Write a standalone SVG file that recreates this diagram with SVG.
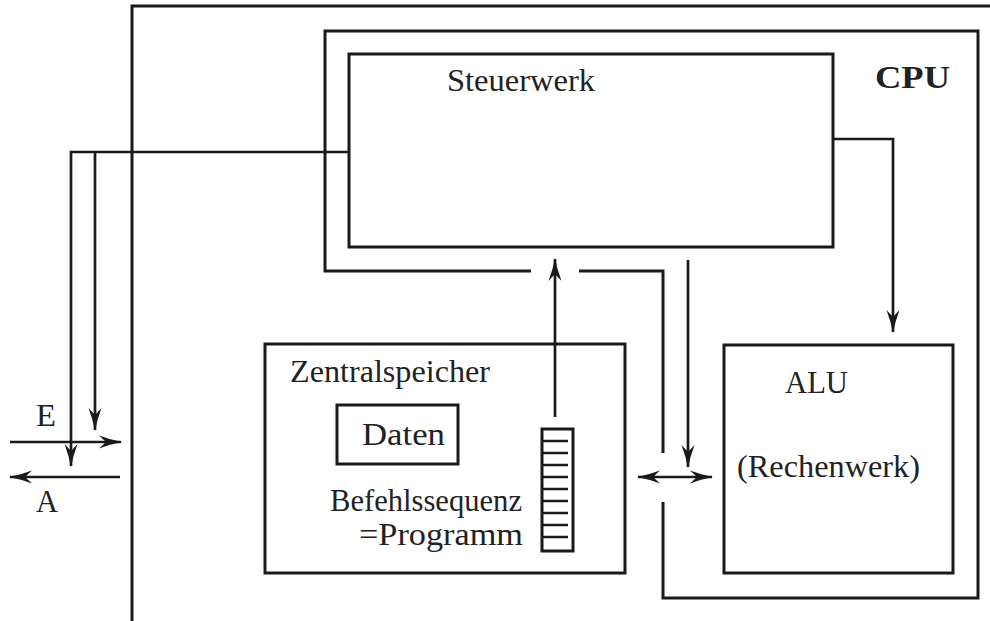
<svg xmlns="http://www.w3.org/2000/svg" width="990" height="621" viewBox="0 0 990 621">
<defs>
<style>
.box{fill:none;stroke:#1a1a1a;stroke-width:3;stroke-linejoin:miter}
.wire{fill:none;stroke:#1a1a1a;stroke-width:2.7}
.rung{stroke:#1a1a1a;stroke-width:2.5}
text{font-family:"Liberation Serif","Times New Roman","DejaVu Serif",serif;font-size:31px;fill:#222}
.bold{font-weight:bold}
</style>
<marker id="ah" markerUnits="userSpaceOnUse" markerWidth="23" markerHeight="14" refX="22" refY="7" orient="auto-start-reverse">
<path d="M0,0.5 Q12,5 23,7 Q12,9 0,13.5 L7,7 Z" fill="#1a1a1a"/>
</marker>
</defs>
<rect width="990" height="621" fill="#fff"/>
<g id="frame"><path class="box" d="M132,621 V6 H990"/></g>
<g id="cpu">
<path class="box" d="M531,271 H325 V31 H978 V598 H663 V502 M663,453 V271 H579"/>
<text class="bold" x="875" y="88" textLength="75" lengthAdjust="spacingAndGlyphs">CPU</text>
</g>
<g id="steuerwerk">
<rect class="box" x="349" y="54" width="484" height="193"/>
<text x="447" y="91" textLength="148" lengthAdjust="spacingAndGlyphs">Steuerwerk</text>
</g>
<g id="zentralspeicher">
<rect class="box" x="265" y="344" width="360" height="229"/>
<text x="290" y="382" textLength="200" lengthAdjust="spacingAndGlyphs">Zentralspeicher</text>
<text x="330" y="511" textLength="192" lengthAdjust="spacingAndGlyphs">Befehlssequenz</text>
<text x="359" y="545" textLength="164" lengthAdjust="spacingAndGlyphs">=Programm</text>
</g>
<g id="daten">
<rect class="box" x="337" y="405" width="121" height="59"/>
<text x="362" y="445" textLength="83" lengthAdjust="spacingAndGlyphs">Daten</text>
</g>
<g id="programm-stack">
<rect class="box" x="542" y="429" width="31" height="122"/>
<path class="rung" d="M542,441 H568 M542,453 H568 M542,465 H568 M542,477 H568 M542,489 H568 M542,501 H568 M542,513 H568 M542,525 H568 M542,537 H568"/>
</g>
<g id="alu">
<rect class="box" x="724" y="345" width="229" height="228"/>
<text x="785" y="393" textLength="63" lengthAdjust="spacingAndGlyphs">ALU</text>
<text x="737" y="477" textLength="183" lengthAdjust="spacingAndGlyphs">(Rechenwerk)</text>
</g>
<g id="io-labels">
<text x="36" y="426" textLength="20" lengthAdjust="spacingAndGlyphs">E</text>
<text x="36" y="512" textLength="22" lengthAdjust="spacingAndGlyphs">A</text>
</g>
<g id="connectors">
<path class="wire" d="M555,417 V259" marker-end="url(#ah)"/>
<path class="wire" d="M688,260 V467" marker-end="url(#ah)"/>
<path class="wire" d="M638,477 H712" marker-start="url(#ah)" marker-end="url(#ah)"/>
<path class="wire" d="M833,139 H893 V332" marker-end="url(#ah)"/>
<path class="wire" d="M349,152 H71 V466" marker-end="url(#ah)"/>
<path class="wire" d="M95,152 V430" marker-end="url(#ah)"/>
<path class="wire" d="M10,442 H121" marker-end="url(#ah)"/>
<path class="wire" d="M120,477 H10" marker-end="url(#ah)"/>
</g>
</svg>
